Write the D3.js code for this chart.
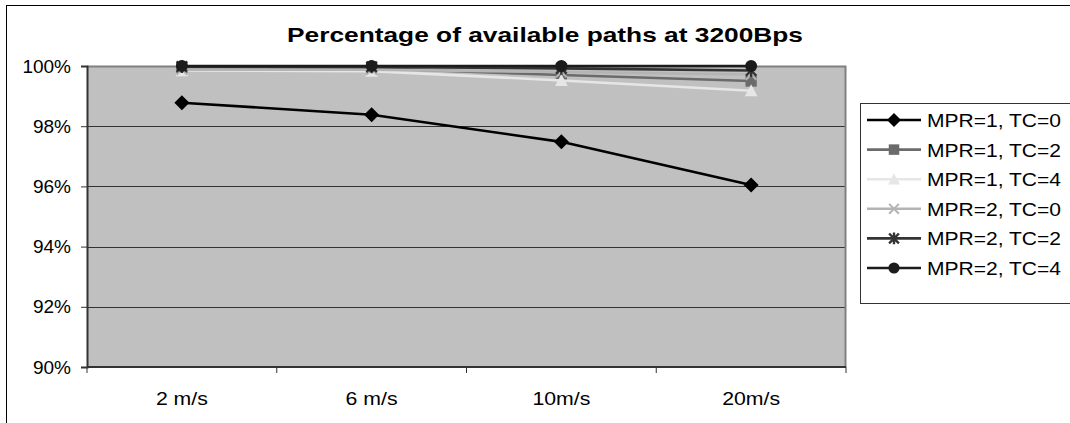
<!DOCTYPE html>
<html>
<head>
<meta charset="utf-8">
<script src="https://cdn.jsdelivr.net/npm/d3@7"></script>
<style>
  html, body { margin: 0; padding: 0; background: #fff; }
  svg { display: block; font-family: "Liberation Sans", Arial, sans-serif; }
</style>
</head>
<body>
<svg id="chart" width="1070" height="423"></svg>
<script>
// Categories (node speed) and y-axis ticks
const speeds = ["2 m/s", "6 m/s", "10m/s", "20m/s"];
const yTicks = [90, 92, 94, 96, 98, 100];

// Percentage of available paths per configuration
const mpr1tc0 = [98.78, 98.38, 97.48, 96.05];
const mpr1tc2 = [99.95, 99.93, 99.70, 99.50];
const mpr1tc4 = [99.85, 99.83, 99.52, 99.18];
const mpr2tc0 = [99.88, 99.88, 99.80, 99.72];
const mpr2tc2 = [99.98, 99.97, 99.92, 99.85];
const mpr2tc4 = [100, 100, 100, 100];

const seriesNames = ["MPR=1, TC=0", "MPR=1, TC=2", "MPR=1, TC=4",
                     "MPR=2, TC=0", "MPR=2, TC=2", "MPR=2, TC=4"];
const seriesValues = [mpr1tc0, mpr1tc2, mpr1tc4, mpr2tc0, mpr2tc2, mpr2tc4];
const seriesColors = ["#000000", "#6b6b6b", "#e6e6e6", "#b4b4b4", "#333333", "#1c1c1c"];
const seriesMarkers = ["diamond", "square", "triangle", "x", "asterisk", "circle"];

const svg = d3.select("#chart");

// outer chart frame
svg.append("rect")
  .attr("x", 6.5).attr("y", 5.5).attr("width", 1100).attr("height", 500)
  .attr("fill", "#fff").attr("stroke", "#000").attr("stroke-width", 1);

const plot = { left: 87, right: 846, top: 66, bottom: 367 };

const x = d3.scaleBand().domain(speeds).range([plot.left, plot.right]).padding(0);
const y = d3.scaleLinear().domain([90, 100]).range([plot.bottom, plot.top]);

// plot background
svg.append("rect")
  .attr("x", plot.left).attr("y", plot.top)
  .attr("width", plot.right - plot.left).attr("height", plot.bottom - plot.top)
  .attr("fill", "#c0c0c0");

// horizontal gridlines
svg.append("g")
  .selectAll("line")
  .data(yTicks.filter(d => d > 90 && d < 100))
  .join("line")
  .attr("x1", plot.left).attr("x2", plot.right)
  .attr("y1", d => Math.round(y(d)) + 0.5).attr("y2", d => Math.round(y(d)) + 0.5)
  .attr("stroke", "#333").attr("stroke-width", 1);

// top and right plot border
svg.append("path")
  .attr("d", `M${plot.left},${plot.top + 0.5}H${plot.right - 0.5}V${plot.bottom}`)
  .attr("fill", "none").attr("stroke", "#808080").attr("stroke-width", 2);

// y axis
const yAxis = d3.axisLeft(y).tickValues(yTicks).tickFormat(d => d + "%").tickSize(6).tickPadding(10);
const gy = svg.append("g").attr("transform", `translate(${plot.left},0)`).call(yAxis);
gy.select(".domain").attr("stroke", "#333").attr("stroke-width", 2);
gy.selectAll(".tick line").attr("stroke", "#333");
gy.selectAll(".tick text").attr("font-size", 19).attr("fill", "#000")
  .attr("font-family", "Liberation Sans, Arial, sans-serif");

// x axis: ticks sit on the band boundaries, labels in band centres
const gx = svg.append("g").attr("transform", `translate(0,${plot.bottom})`);
gx.append("line").attr("x1", plot.left).attr("x2", plot.right)
  .attr("stroke", "#333").attr("stroke-width", 2);
const bounds = speeds.map(s => x(s)).concat([plot.right]);
gx.selectAll("line.tk").data(bounds).join("line").attr("class", "tk")
  .attr("x1", d => d).attr("x2", d => d).attr("y1", 0).attr("y2", 6)
  .attr("stroke", "#333");
gx.selectAll("text").data(speeds).join("text")
  .attr("x", d => x(d) + x.bandwidth() / 2).attr("y", 38)
  .attr("text-anchor", "middle").attr("font-size", 19).attr("fill", "#000")
  .attr("transform", d => {
    const cx = x(d) + x.bandwidth() / 2;
    return `translate(${cx},0) scale(1.12,1) translate(${-cx},0)`;
  })
  .text(d => d);

// marker glyphs
function marker(g, type, color, size) {
  const s = size;
  if (type === "diamond") {
    g.append("path").attr("d", `M0,${-s}L${s},0L0,${s}L${-s},0Z`).attr("fill", color);
  } else if (type === "square") {
    g.append("rect").attr("x", -s * 0.75).attr("y", -s * 0.75).attr("width", s * 1.5).attr("height", s * 1.5).attr("fill", color);
  } else if (type === "triangle") {
    g.append("path").attr("d", `M0,${-s * 0.85}L${s * 0.85},${s * 0.75}L${-s * 0.85},${s * 0.75}Z`).attr("fill", color);
  } else if (type === "x") {
    g.append("path").attr("d", `M${-s * 0.7},${-s * 0.7}L${s * 0.7},${s * 0.7}M${-s * 0.7},${s * 0.7}L${s * 0.7},${-s * 0.7}`)
      .attr("stroke", color).attr("stroke-width", 2);
  } else if (type === "asterisk") {
    g.append("path").attr("d", `M${-s * 0.7},${-s * 0.7}L${s * 0.7},${s * 0.7}M${-s * 0.7},${s * 0.7}L${s * 0.7},${-s * 0.7}M0,${-s * 0.85}V${s * 0.85}`)
      .attr("stroke", color).attr("stroke-width", 2.4);
  } else if (type === "circle") {
    g.append("circle").attr("r", s * 0.8).attr("fill", color);
  }
}

// series lines and markers
const line = d3.line()
  .x((d, i) => x(speeds[i]) + x.bandwidth() / 2)
  .y(d => y(d));

const seriesG = svg.append("g");
seriesValues.forEach((vals, k) => {
  const g = seriesG.append("g");
  g.append("path").datum(vals).attr("d", line)
    .attr("fill", "none").attr("stroke", seriesColors[k]).attr("stroke-width", 2.6);
  vals.forEach((v, i) => {
    const m = g.append("g").attr("transform", `translate(${x(speeds[i]) + x.bandwidth() / 2},${y(v)})`);
    marker(m, seriesMarkers[k], seriesColors[k], 7.5);
  });
});

// title
svg.append("text")
  .attr("x", 287).attr("y", 42)
  .attr("font-size", 21).attr("font-weight", "bold")
  .attr("textLength", 516).attr("lengthAdjust", "spacingAndGlyphs")
  .attr("fill", "#000")
  .text("Percentage of available paths at 3200Bps");

// legend
const legend = svg.append("g");
legend.append("rect")
  .attr("x", 860.5).attr("y", 103.5).attr("width", 240).attr("height", 200)
  .attr("fill", "#fff").attr("stroke", "#333").attr("stroke-width", 1);
seriesNames.forEach((name, k) => {
  const yy = 120 + k * 29.6;
  const it = legend.append("g").attr("transform", `translate(0,${yy})`);
  it.append("line").attr("x1", 867).attr("x2", 921).attr("y1", 0).attr("y2", 0)
    .attr("stroke", seriesColors[k]).attr("stroke-width", 2.6);
  marker(it.append("g").attr("transform", "translate(894,0)"), seriesMarkers[k], seriesColors[k], 7);
  it.append("text").attr("x", 927).attr("y", 7).attr("font-size", 19)
    .attr("textLength", 134).attr("lengthAdjust", "spacingAndGlyphs")
    .attr("fill", "#000").text(name);
});
</script>
</body>
</html>
